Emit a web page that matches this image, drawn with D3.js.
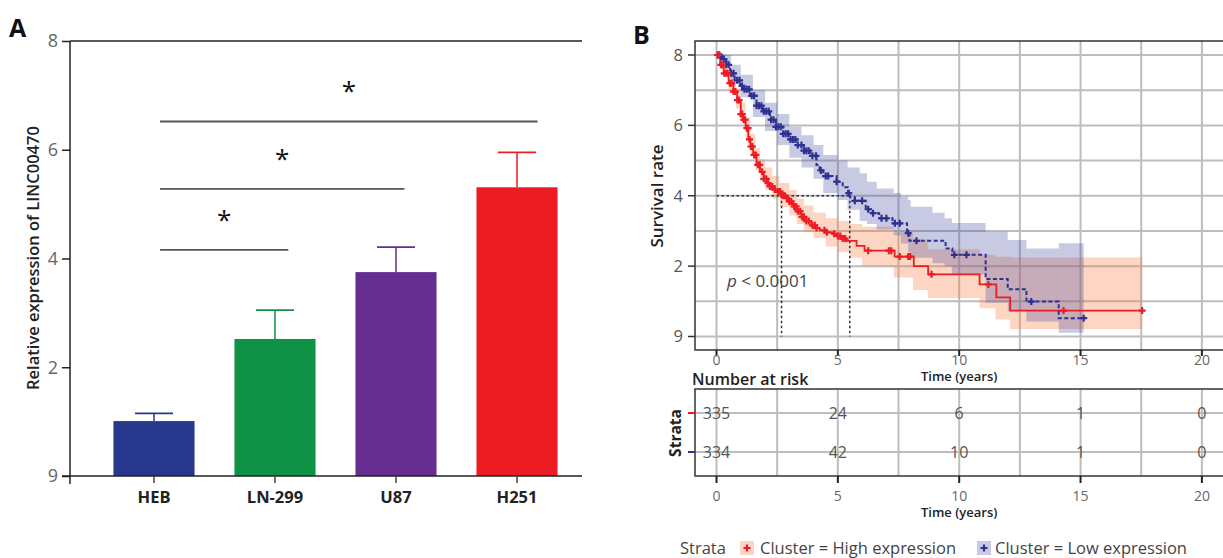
<!DOCTYPE html>
<html>
<head>
<meta charset="utf-8">
<script src="https://cdn.jsdelivr.net/npm/d3@7"></script>
<style>
  html, body { margin: 0; padding: 0; background: #fff; }
  svg { display: block; font-family: "Open Sans", "Noto Sans", sans-serif; }
</style>
</head>
<body>
<svg id="chart" width="1223" height="558"></svg>
<script>
// ---------------- Panel A data ----------------
const barCategories = ["HEB", "LN-299", "U87", "H251"];
const barValues = [1.01, 2.52, 3.75, 5.31];
const barErrUpper = [1.15, 3.05, 4.21, 5.95];
const yTicksA = [0, 2, 4, 6, 8];
const yTickLabelsA = ["9", "2", "4", "6", "8"];
// significance brackets: from category index, to category index (fractional), level
const sigFrom = [0.05, 0.05, 0.05];
const sigTo = [1.11, 2.07, 3.17];
const sigLevel = [4.16, 5.28, 6.52];
const sigLabel = ["*", "*", "*"];

// ---------------- Panel B data ----------------
const yTicksB = [0, 0.25, 0.5, 0.75, 1];
const yTickLabelsB = ["9", "2", "4", "6", "8"];
const xTicksB = [0, 5, 10, 15, 20];
const xMinorB = [2.5, 7.5, 12.5, 17.5];
const yMinorB = [0.125, 0.375, 0.625, 0.875];

// High expression KM step curve
const highT = [0, 0.15, 0.3, 0.5, 0.7, 0.85, 1.0, 1.1, 1.2, 1.31, 1.4, 1.51, 1.65, 1.79, 1.95, 2.07, 2.2, 2.35, 2.5, 2.68, 2.85, 3.0, 3.15, 3.3, 3.5, 3.7, 3.9, 4.1, 4.26, 4.5, 4.8, 4.95, 5.15, 5.36, 5.77, 6.1, 7.34, 8.13, 8.72, 10.84, 11.53, 12.1];
const highS = [1, 0.965, 0.935, 0.90, 0.87, 0.84, 0.79, 0.77, 0.74, 0.70, 0.675, 0.645, 0.61, 0.585, 0.56, 0.545, 0.533, 0.522, 0.515, 0.50, 0.492, 0.48, 0.462, 0.445, 0.425, 0.41, 0.395, 0.385, 0.377, 0.37, 0.365, 0.357, 0.348, 0.34, 0.322, 0.305, 0.284, 0.25, 0.221, 0.185, 0.139, 0.092];
const highEnd = 17.54;
const highCensor = [0.05, 0.1, 0.18, 0.25, 0.32, 0.4, 0.46, 0.55, 0.62, 0.7, 0.78, 0.86, 0.93, 1.0, 1.06, 1.12, 1.18, 1.25, 1.3, 1.36, 1.42, 1.48, 1.55, 1.62, 1.7, 1.78, 1.88, 1.95, 2.05, 2.12, 2.2, 2.3, 2.4, 2.55, 2.62, 2.75, 2.82, 2.9, 3.0, 3.08, 3.2, 3.28, 3.35, 3.45, 3.52, 3.6, 3.7, 3.8, 3.95, 4.05, 4.12, 4.45, 4.55, 4.85, 5.0, 5.1, 5.2, 5.3, 6.25, 7.1, 7.2, 7.55, 7.9, 7.98, 8.86, 11.2, 14.3, 17.54];
const highBandT = [0, 0.2, 0.5, 0.8, 1.0, 1.2, 1.4, 1.6, 1.8, 2.0, 2.3, 2.6, 3.0, 3.3, 3.6, 4.0, 4.5, 5.0, 5.5, 6.0, 7.3, 8.1, 8.7, 10.84, 11.5, 12.1];
const highBandLo = [1, 0.94, 0.87, 0.81, 0.76, 0.70, 0.64, 0.59, 0.55, 0.52, 0.49, 0.46, 0.43, 0.40, 0.37, 0.35, 0.32, 0.30, 0.28, 0.25, 0.21, 0.165, 0.137, 0.10, 0.06, 0.027];
const highBandHi = [1, 0.985, 0.93, 0.88, 0.83, 0.78, 0.72, 0.67, 0.63, 0.60, 0.57, 0.545, 0.52, 0.49, 0.465, 0.44, 0.42, 0.41, 0.40, 0.39, 0.37, 0.345, 0.31, 0.29, 0.283, 0.281];

// Low expression KM step curve
const lowT = [0, 0.14, 0.28, 0.4, 0.56, 0.75, 0.97, 1.1, 1.38, 1.65, 1.9, 2.2, 2.45, 2.75, 3.0, 3.3, 3.6, 3.85, 4.12, 4.25, 4.4, 4.95, 5.2, 5.42, 5.5, 5.7, 6.15, 6.4, 6.7, 7.25, 7.85, 7.95, 9.44, 9.72, 11.09, 12.0, 12.77, 14.1];
const lowS = [1, 0.994, 0.985, 0.965, 0.935, 0.91, 0.89, 0.878, 0.855, 0.82, 0.80, 0.77, 0.745, 0.72, 0.70, 0.68, 0.66, 0.642, 0.609, 0.59, 0.57, 0.55, 0.53, 0.509, 0.495, 0.482, 0.452, 0.438, 0.42, 0.402, 0.367, 0.34, 0.313, 0.29, 0.204, 0.168, 0.124, 0.065];
const lowEnd = 15.13;
const lowCensor = [0.05, 0.12, 0.2, 0.3, 0.4, 0.5, 0.6, 0.7, 0.85, 0.95, 1.05, 1.15, 1.25, 1.35, 1.45, 1.55, 1.65, 1.75, 1.85, 1.95, 2.05, 2.15, 2.25, 2.35, 2.45, 2.55, 2.65, 2.75, 2.85, 2.95, 3.05, 3.15, 3.25, 3.35, 3.5, 3.6, 3.7, 3.8, 3.95, 4.1, 4.3, 4.5, 4.6, 4.95, 5.45, 5.7, 6.0, 6.25, 6.45, 6.8, 7.0, 7.35, 7.55, 7.9, 8.24, 9.8, 10.3, 12.97, 15.13];
const lowBandT = [0, 0.3, 0.6, 1.0, 1.5, 2.0, 2.5, 3.0, 3.5, 4.0, 4.4, 5.0, 5.4, 5.9, 6.2, 6.6, 7.3, 7.6, 7.9, 8.0, 8.9, 9.4, 9.7, 11.09, 12.0, 12.77, 14.1];
const lowBandLo = [1, 0.96, 0.90, 0.85, 0.78, 0.73, 0.68, 0.635, 0.60, 0.56, 0.51, 0.485, 0.45, 0.41, 0.40, 0.38, 0.36, 0.33, 0.30, 0.28, 0.26, 0.25, 0.22, 0.12, 0.09, 0.053, 0.013];
const lowBandHi = [1, 1.0, 0.965, 0.93, 0.875, 0.83, 0.79, 0.745, 0.715, 0.68, 0.645, 0.625, 0.60, 0.58, 0.55, 0.526, 0.51, 0.497, 0.485, 0.461, 0.44, 0.42, 0.403, 0.372, 0.343, 0.313, 0.331];

const medianHigh = 2.68, medianLow = 5.49;

// Risk table
const riskTimes = [0, 5, 10, 15, 20];
const riskHigh = [335, 24, 6, 1, 0];
const riskLow = [334, 42, 10, 1, 0];
const strataNames = ["Cluster = High expression", "Cluster = Low expression"];

// ---------------- drawing ----------------
const svg = d3.select("#chart");
svg.append("rect").attr("width", 1223).attr("height", 558).attr("fill", "#fff");

const barColors = ["#27378c", "#0f9245", "#652d90", "#ed1c24"];
const RED = "#ed1c24", BLUE = "#2e3192";

// ===== Panel A =====
const gA = svg.append("g");
const yA = d3.scaleLinear().domain([0, 8]).range([476, 41]);
const xA = d3.scaleBand().domain(barCategories).range([93.5, 577.5]).paddingInner(0.33).paddingOuter(0.165);
const catPos = d3.scaleLinear().domain([0, 1]).range([xA(barCategories[0]) + xA.bandwidth() / 2, xA(barCategories[1]) + xA.bandwidth() / 2]);

gA.append("text").attr("x", 9).attr("y", 37).attr("font-size", 25).attr("font-weight", 700).attr("fill", "#111").text("A");

gA.append("line").attr("x1", 70).attr("x2", 582).attr("y1", 41).attr("y2", 41).attr("stroke", "#222").attr("stroke-width", 1.5);

const axA = d3.axisLeft(yA).tickValues(yTicksA).tickFormat((d, i) => yTickLabelsA[i]).tickSize(8).tickPadding(4);
const gAy = gA.append("g").attr("transform", "translate(70,0)").call(axA);
gAy.select(".domain").remove();
gAy.selectAll(".tick line").attr("stroke", "#222").attr("stroke-width", 1.5);
gAy.selectAll(".tick text").attr("font-size", 18).attr("fill", "#666").attr("font-family", "Open Sans");
gA.append("line").attr("x1", 70).attr("x2", 70).attr("y1", 41).attr("y2", 484).attr("stroke", "#222").attr("stroke-width", 1.5);

gA.selectAll("rect.bar").data(barValues).join("rect")
  .attr("class", "bar")
  .attr("x", (d, i) => xA(barCategories[i]))
  .attr("width", xA.bandwidth())
  .attr("y", d => yA(d))
  .attr("height", d => yA(0) - yA(d))
  .attr("fill", (d, i) => barColors[i]);

barValues.forEach((v, i) => {
  const cx = xA(barCategories[i]) + xA.bandwidth() / 2;
  gA.append("line").attr("x1", cx).attr("x2", cx).attr("y1", yA(v)).attr("y2", yA(barErrUpper[i])).attr("stroke", barColors[i]).attr("stroke-width", 1.5);
  gA.append("line").attr("x1", cx - 19).attr("x2", cx + 19).attr("y1", yA(barErrUpper[i])).attr("y2", yA(barErrUpper[i])).attr("stroke", barColors[i]).attr("stroke-width", 1.8);
});

gA.append("line").attr("x1", 62).attr("x2", 582).attr("y1", yA(0)).attr("y2", yA(0)).attr("stroke", "#222").attr("stroke-width", 1.5);
barCategories.forEach(c => {
  const cx = xA(c) + xA.bandwidth() / 2;
  gA.append("line").attr("x1", cx).attr("x2", cx).attr("y1", yA(0)).attr("y2", yA(0) + 7).attr("stroke", "#444").attr("stroke-width", 1.5);
  gA.append("text").attr("x", cx).attr("y", 503).attr("text-anchor", "middle").attr("font-size", 16.5).attr("font-weight", 700).attr("fill", "#222").text(c);
});

gA.append("text").attr("transform", "translate(39,258) rotate(-90)").attr("text-anchor", "middle")
  .attr("font-size", 16.5).attr("font-weight", 600).attr("fill", "#222").text("Relative expression of LINC00470");

sigLevel.forEach((lv, i) => {
  const x1 = catPos(sigFrom[i]), x2 = catPos(sigTo[i]);
  gA.append("line").attr("x1", x1).attr("x2", x2).attr("y1", yA(lv)).attr("y2", yA(lv)).attr("stroke", "#555").attr("stroke-width", 1.8);
  gA.append("text").attr("x", (x1 + x2) / 2).attr("y", yA(lv) - 21).attr("text-anchor", "middle")
    .attr("font-size", 26).attr("fill", "#111").text(sigLabel[i]);
});

// ===== Panel B =====
const gB = svg.append("g");
const xB = d3.scaleLinear().domain([-0.886, 20.87]).range([695, 1223]);
const yB = d3.scaleLinear().domain([0, 1]).range([336.5, 55]);
const pTop = 41, pBot = 350;

gB.append("text").attr("x", 633).attr("y", 44).attr("font-size", 25).attr("font-weight", 700).attr("fill", "#111").text("B");

const gridColor = "#bdbdbd";
xTicksB.concat(xMinorB).forEach(t => {
  gB.append("line").attr("x1", xB(t)).attr("x2", xB(t)).attr("y1", pTop).attr("y2", pBot).attr("stroke", gridColor).attr("stroke-width", 2);
});
yTicksB.concat(yMinorB).forEach(s => {
  gB.append("line").attr("x1", 695).attr("x2", 1223).attr("y1", yB(s)).attr("y2", yB(s)).attr("stroke", gridColor).attr("stroke-width", 2);
});

function bandData(T, lo, hi, end) {
  const d = T.map((t, i) => ({ t, lo: lo[i], hi: hi[i] }));
  d.push({ t: end, lo: lo[lo.length - 1], hi: hi[hi.length - 1] });
  return d;
}
const area = d3.area().curve(d3.curveStepAfter).x(d => xB(d.t)).y0(d => yB(d.lo)).y1(d => yB(d.hi));
gB.append("path").attr("d", area(bandData(highBandT, highBandLo, highBandHi, highEnd))).attr("fill", "rgb(245,115,55)").attr("fill-opacity", 0.3);
gB.append("path").attr("d", area(bandData(lowBandT, lowBandLo, lowBandHi, lowEnd))).attr("fill", "rgb(72,75,162)").attr("fill-opacity", 0.3);

gB.append("line").attr("x1", xB(0)).attr("x2", xB(medianLow)).attr("y1", yB(0.5)).attr("y2", yB(0.5)).attr("stroke", "#333").attr("stroke-width", 1.5).attr("stroke-dasharray", "2.5,2.5");
[medianHigh, medianLow].forEach(m => {
  gB.append("line").attr("x1", xB(m)).attr("x2", xB(m)).attr("y1", yB(0.5)).attr("y2", yB(0)).attr("stroke", "#333").attr("stroke-width", 1.5).attr("stroke-dasharray", "2.5,2.5");
});

function curveData(T, S, end) {
  const d = T.map((t, i) => ({ t, s: S[i] }));
  d.push({ t: end, s: S[S.length - 1] });
  return d;
}
function survAt(T, S, t) {
  let s = S[0];
  for (let i = 0; i < T.length; i++) { if (T[i] <= t) s = S[i]; }
  return s;
}
const line = d3.line().curve(d3.curveStepAfter).x(d => xB(d.t)).y(d => yB(d.s));
gB.append("path").attr("d", line(curveData(highT, highS, highEnd))).attr("fill", "none").attr("stroke", RED).attr("stroke-width", 1.8);
gB.append("path").attr("d", line(curveData(lowT, lowS, lowEnd))).attr("fill", "none").attr("stroke", BLUE).attr("stroke-width", 2).attr("stroke-dasharray", "4,2.5");

function plus(g, cx, cy, color, r) {
  g.append("path").attr("d", `M${cx - r},${cy}H${cx + r}M${cx},${cy - r}V${cy + r}`).attr("stroke", color).attr("stroke-width", 2.2).attr("fill", "none");
}
lowCensor.forEach(t => plus(gB, xB(t), yB(survAt(lowT, lowS, t)), BLUE, 3.5));
highCensor.forEach(t => plus(gB, xB(t), yB(survAt(highT, highS, t)), RED, 3.5));

gB.append("path").attr("d", `M1223,${pTop}H695V${pBot}H1223`).attr("fill", "none").attr("stroke", "#333").attr("stroke-width", 1.5);

yTicksB.forEach((s, i) => {
  gB.append("line").attr("x1", 688).attr("x2", 695).attr("y1", yB(s)).attr("y2", yB(s)).attr("stroke", "#333").attr("stroke-width", 1.5);
  gB.append("text").attr("x", 683).attr("y", yB(s)).attr("dy", "0.35em").attr("text-anchor", "end").attr("font-size", 16.5).attr("fill", "#555").text(yTickLabelsB[i]);
});
gB.append("text").attr("transform", "translate(663,196) rotate(-90)").attr("text-anchor", "middle").attr("font-size", 17).attr("font-weight", 600).attr("fill", "#222").text("Survival rate");

xTicksB.forEach(t => {
  gB.append("line").attr("x1", xB(t)).attr("x2", xB(t)).attr("y1", pBot).attr("y2", pBot + 6).attr("stroke", "#222").attr("stroke-width", 2);
  gB.append("text").attr("x", xB(t)).attr("y", 365).attr("text-anchor", "middle").attr("font-size", 14).attr("fill", "#666").text(t);
});
gB.append("text").attr("x", xB(10)).attr("y", 381).attr("text-anchor", "middle").attr("font-size", 13).attr("font-weight", 600).attr("fill", "#222").text("Time (years)");

const pt = gB.append("text").attr("x", 727).attr("y", 287).attr("font-size", 17).attr("fill", "#444");
pt.append("tspan").attr("font-style", "italic").text("p");
pt.append("tspan").text(" < 0.0001");

// ===== Risk table =====
const gR = svg.append("g");
const rTop = 389, rBot = 476;
gR.append("text").attr("x", 692).attr("y", 385).attr("font-size", 16).attr("font-weight", 600).attr("fill", "#222").text("Number at risk");
xTicksB.concat(xMinorB).forEach(t => {
  gR.append("line").attr("x1", xB(t)).attr("x2", xB(t)).attr("y1", rTop).attr("y2", rBot).attr("stroke", gridColor).attr("stroke-width", 2);
});
const rowY = [413, 452];
rowY.forEach(y => gR.append("line").attr("x1", 695).attr("x2", 1223).attr("y1", y).attr("y2", y).attr("stroke", gridColor).attr("stroke-width", 2));
[riskHigh, riskLow].forEach((row, r) => {
  row.forEach((n, i) => {
    gR.append("text").attr("x", xB(riskTimes[i])).attr("y", rowY[r]).attr("dy", "0.35em").attr("text-anchor", "middle").attr("font-size", 16).attr("fill", "#555").text(n);
  });
});
gR.append("path").attr("d", `M1223,${rTop}H695V${rBot}H1223`).attr("fill", "none").attr("stroke", "#333").attr("stroke-width", 1.5);
gR.append("line").attr("x1", 688).attr("x2", 695).attr("y1", rowY[0]).attr("y2", rowY[0]).attr("stroke", RED).attr("stroke-width", 2);
gR.append("line").attr("x1", 688).attr("x2", 695).attr("y1", rowY[1]).attr("y2", rowY[1]).attr("stroke", BLUE).attr("stroke-width", 2);
gR.append("text").attr("transform", "translate(681,433) rotate(-90)").attr("text-anchor", "middle").attr("font-size", 15.5).attr("font-weight", 700).attr("fill", "#222").text("Strata");
xTicksB.forEach(t => {
  gR.append("line").attr("x1", xB(t)).attr("x2", xB(t)).attr("y1", rBot).attr("y2", rBot + 7).attr("stroke", "#222").attr("stroke-width", 2);
  gR.append("text").attr("x", xB(t)).attr("y", 501).attr("text-anchor", "middle").attr("font-size", 14).attr("fill", "#666").text(t);
});
gR.append("text").attr("x", xB(10)).attr("y", 517).attr("text-anchor", "middle").attr("font-size", 13).attr("font-weight", 600).attr("fill", "#222").text("Time (years)");

// ===== Legend =====
const gL = svg.append("g");
gL.append("text").attr("x", 680).attr("y", 554).attr("font-size", 16.5).attr("fill", "#444").text("Strata");
const keyX = [747, 984];
const keyTextX = [760, 995];
const keyFill = ["rgb(245,115,55)", "rgb(72,75,162)"];
const keyStroke = [RED, BLUE];
strataNames.forEach((name, i) => {
  gL.append("rect").attr("x", keyX[i] - 7).attr("y", 541).attr("width", 14).attr("height", 14).attr("fill", keyFill[i]).attr("fill-opacity", 0.3);
  plus(gL, keyX[i], 548, keyStroke[i], 3.5);
  gL.append("text").attr("x", keyTextX[i]).attr("y", 554).attr("font-size", 16.5).attr("fill", "#444").text(name);
});
</script>
</body>
</html>
